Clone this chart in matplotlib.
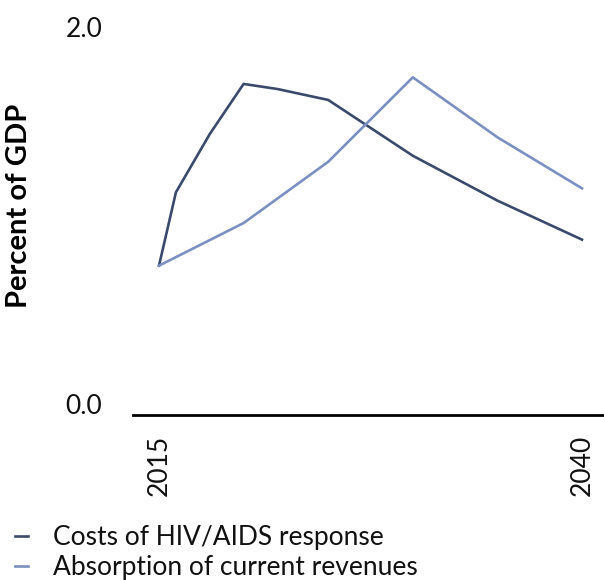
import matplotlib
matplotlib.use("Agg")
import matplotlib.pyplot as plt

# projected values, percent of GDP
years_cost = [2015, 2016, 2018, 2020, 2022, 2025, 2030, 2035, 2040]
cost_hiv = [0.734, 1.123, 1.432, 1.698, 1.671, 1.613, 1.317, 1.079, 0.872]

years_rev = [2015, 2020, 2025, 2030, 2035, 2040]
absorption = [0.734, 0.960, 1.285, 1.733, 1.415, 1.144]

dark = "#3b4a6b"
light = "#7b8fc0"

plt.rcParams["font.family"] = ["Lato", "DejaVu Sans"]

fig = plt.figure(figsize=(6.04, 5.8), dpi=100)
ax = fig.add_axes([133 / 604, 1 - 415 / 580, 1 - 133 / 604, (415 - 27) / 580])

ax.plot(years_cost, cost_hiv, color=dark, lw=1.9, label="Costs of HIV/AIDS response")
ax.plot(years_rev, absorption, color=light, lw=1.9, label="Absorption of current revenues")

ax.set_xlim(2015 - 26 / 16.92, 2040 + 22 / 16.92)
ax.set_ylim(-11 / 188.5, 2.0)

ax.set_yticks([0, 2])
ax.set_yticklabels(["0.0", "2.0"])
ax.set_xticks([2015, 2040])
ax.set_xticklabels(["2015", "2040"], rotation=90)
ax.tick_params(axis="y", length=0, pad=22, labelsize=19, colors="#111111")
ax.tick_params(axis="x", length=0, pad=14, labelsize=19, colors="#111111")

for s in ["top", "right", "left"]:
    ax.spines[s].set_visible(False)
ax.spines["bottom"].set_linewidth(2)
ax.spines["bottom"].set_color("black")

fig.text(19 / 604, 1 - 206 / 580, "Percent of GDP", rotation=90, fontsize=21,
         fontweight="bold", ha="center", va="center")

fig.legend(loc="upper left", bbox_to_anchor=(15 / 604, 1 - 525 / 580), frameon=False,
           fontsize=19, handlelength=0.5, handletextpad=0.95, labelspacing=0.2,
           borderaxespad=0, borderpad=0, labelcolor="#111111")

fig.savefig("out.png", dpi=100)
